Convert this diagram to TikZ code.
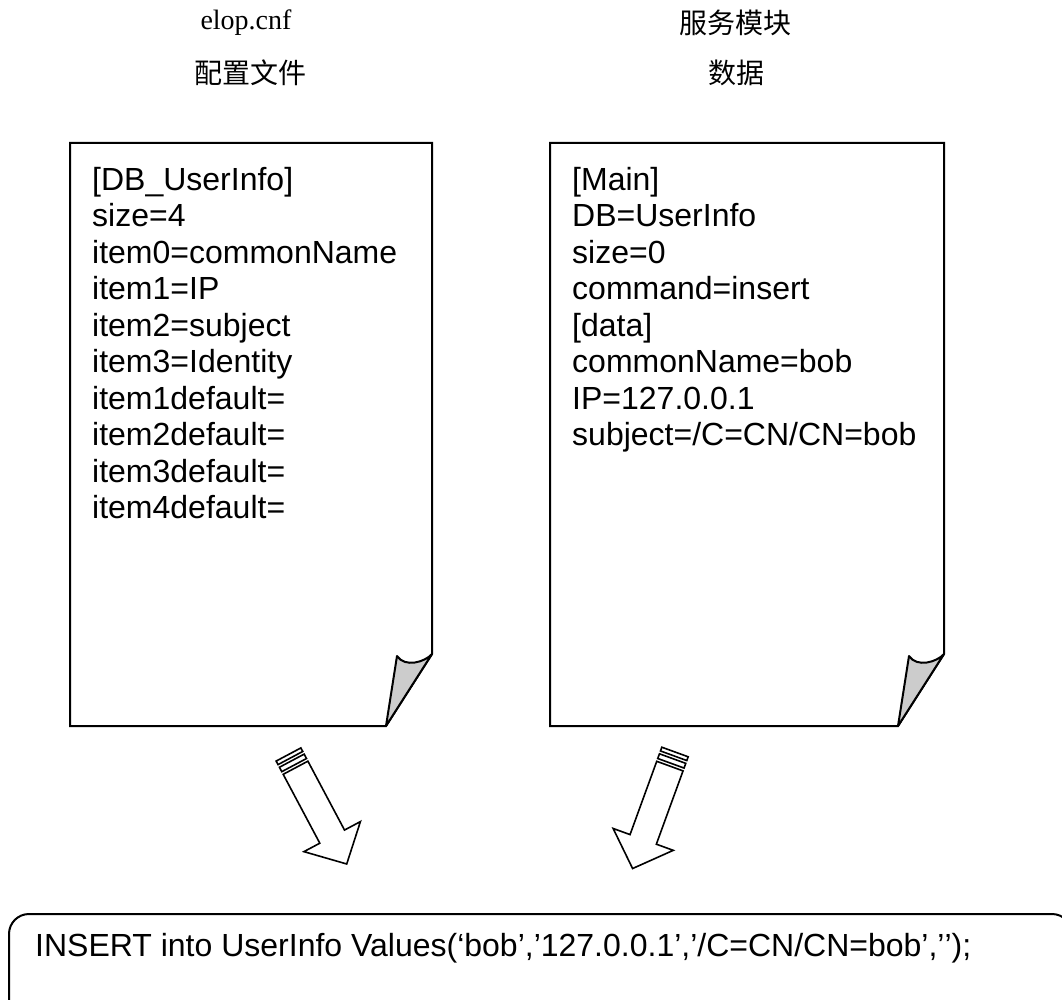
\documentclass[tikz,border=0pt]{standalone}
\usepackage{fontspec}
\setmainfont{Liberation Serif}
\newfontfamily\arial{Liberation Sans}
\newfontfamily\cjk{Noto Sans CJK SC}
\begin{document}
\begin{tikzpicture}[x=1pt,y=-1pt,
  page/.style={draw=black, line width=2pt, fill=white, line join=miter},
  curl/.style={draw=black, line width=2pt, fill=black!20, line join=round},
  blockarrow/.style={draw=black, line width=1.6pt, fill=white, line join=miter},
  listing/.style={font=\arial\fontsize{32}{36.5}\selectfont, align=left, inner sep=0pt, anchor=north west},
  title/.style={font=\fontsize{28}{34}\selectfont, inner sep=0pt},
  sqlbox/.style={draw=black, line width=2pt, rounded corners=20pt},
  hollow arrow/.pic={
    \draw[blockarrow] (0,-14) rectangle (4,14);
    \draw[blockarrow] (7,-14) rectangle (12,14);
    \draw[blockarrow] (15,-14) -- (93,-14) -- (93,-32) -- (124,0) -- (93,32) -- (93,14) -- (15,14) -- cycle;
  }]
\useasboundingbox (0,0) rectangle (1062,1000);
\clip (0,0) rectangle (1062,1000);

% headings
\node[title] (cnfname) at (246,23) {elop.cnf};
\node[title] (cnfdesc) at (250,73) {\cjk 配置文件};
\node[title] (svcname) at (735,23) {\cjk 服务模块};
\node[title] (svcdesc) at (736,73) {\cjk 数据};

% configuration file page with curled corner
\draw[page] (70,143) -- (432,143) -- (432,654) -- (386,726) -- (70,726) -- cycle;
\draw[curl] (432,654) .. controls (425,662) and (405,668) .. (397,656) -- (386,726) -- cycle;
\node[listing] (cnftext) at (92,167) {[DB\_UserInfo]\\size=4\\item0=commonName\\item1=IP\\item2=subject\\item3=Identity\\item1default=\\item2default=\\item3default=\\item4default=};

% service data page with curled corner
\draw[page] (550,143) -- (944,143) -- (944,654) -- (898,726) -- (550,726) -- cycle;
\draw[curl] (944,654) .. controls (937,662) and (917,668) .. (909,656) -- (898,726) -- cycle;
\node[listing] (svctext) at (572,167) {[Main]\\DB=UserInfo\\size=0\\command=insert\\{}[data]\\commonName=bob\\IP=127.0.0.1\\subject=/C=CN/CN=bob};

% hollow arrows into the statement
\pic[rotate=-62] at (288.5,754.5) {hollow arrow};
\pic[rotate=-110] at (675,752) {hollow arrow};

% resulting SQL statement
\draw[sqlbox] (9,914) rectangle (1072,1030);
\node[anchor=base west, inner sep=0pt, font=\arial\fontsize{32}{36.5}\selectfont] (sql) at (35,956) {INSERT into UserInfo Values(‘bob’,’127.0.0.1’,’/C=CN/CN=bob’,’\kern0pt’);};
\end{tikzpicture}
\end{document}
